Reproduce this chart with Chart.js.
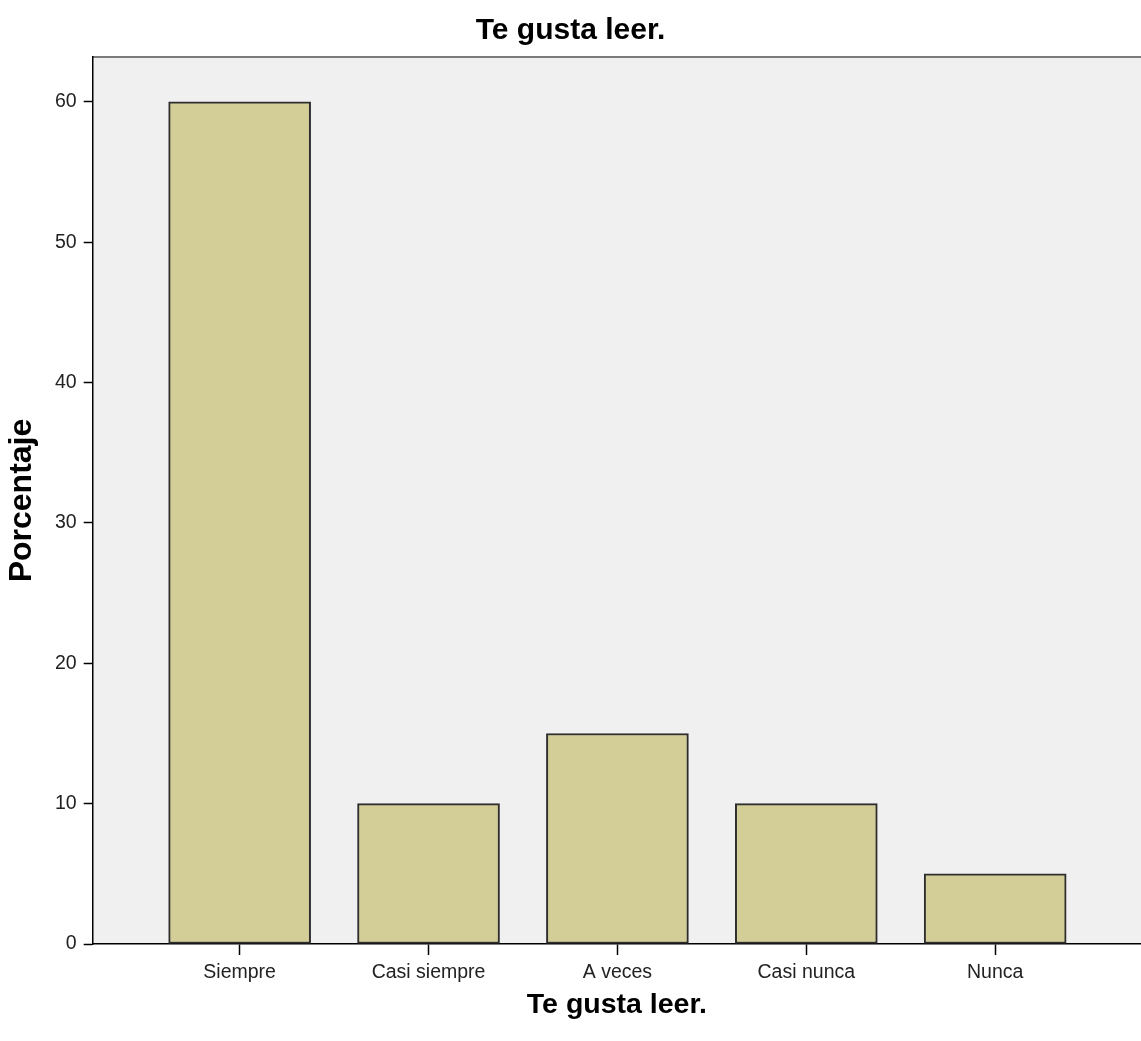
<!DOCTYPE html>
<html>
<head>
<meta charset="utf-8">
<script src="https://cdn.jsdelivr.net/npm/chart.js@4.4.1/dist/chart.umd.min.js"></script>
<style>
  html, body { margin: 0; padding: 0; background: #ffffff; }
  #wrap { width: 1141px; height: 1041px; }
</style>
</head>
<body>
<div id="wrap"><canvas id="c" width="1141" height="1041"></canvas></div>
<script>
const categories = ['Siempre', 'Casi siempre', 'A veces', 'Casi nunca', 'Nunca'];
const percentages = [60, 10, 15, 10, 5];
const yTicks = [0, 10, 20, 30, 40, 50, 60];
const chartTitle = 'Te gusta leer.';
const xTitle = 'Te gusta leer.';
const yTitle = 'Porcentaje';

const FONT = '"Liberation Sans", Arial, Helvetica, sans-serif';

const plotBg = {
  id: 'plotBg',
  beforeDraw(chart) {
    const { ctx, chartArea: a } = chart;
    ctx.save();
    ctx.fillStyle = '#f0f0f0';
    ctx.fillRect(a.left, a.top, a.right - a.left, a.bottom - a.top);
    ctx.strokeStyle = '#7a7a7a';
    ctx.lineWidth = 2;
    ctx.beginPath();
    ctx.moveTo(a.left, a.top);
    ctx.lineTo(a.right, a.top);
    ctx.stroke();
    ctx.restore();
  }
};

new Chart(document.getElementById('c'), {
  type: 'bar',
  data: {
    datasets: [{
      data: categories.map((c, i) => ({ x: i, y: percentages[i] })),
      backgroundColor: '#d3ce97',
      borderColor: '#2e2e2e',
      borderWidth: 2,
      borderSkipped: false,
      barThickness: 142
    }]
  },
  options: {
    responsive: false,
    animation: false,
    events: [],
    layout: { padding: { left: 0, right: 0, top: 0, bottom: 0 } },
    plugins: {
      legend: { display: false },
      tooltip: { enabled: false },
      title: {
        display: true,
        text: chartTitle,
        color: '#000000',
        font: { family: FONT, size: 30, weight: 'bold', lineHeight: 1.2 },
        padding: { top: 13, bottom: 8 }
      }
    },
    scales: {
      x: {
        type: 'linear',
        offset: false,
        min: -0.778,
        max: 4.772,
        afterBuildTicks(scale) {
          scale.ticks = categories.map((c, i) => ({ value: i }));
        },
        ticks: {
          callback: (v) => categories[v] ?? '',
          color: '#222222',
          font: { family: FONT, size: 19.5, lineHeight: 1.0 },
          padding: 8,
          maxRotation: 0,
          autoSkip: false
        },
        grid: {
          offset: false,
          drawOnChartArea: false,
          drawTicks: true,
          tickLength: 11,
          tickColor: '#000000',
          tickWidth: 1.5
        },
        border: { display: true, color: '#000000', width: 1.5 },
        title: {
          display: true,
          text: xTitle,
          color: '#000000',
          font: { family: FONT, size: 28.5, weight: 'bold', lineHeight: 1.0 },
          padding: { top: 0, bottom: 22 }
        }
      },
      y: {
        min: 0,
        max: 63.2,
        afterBuildTicks(scale) {
          scale.ticks = yTicks.map(v => ({ value: v }));
        },
        ticks: {
          color: '#222222',
          font: { family: FONT, size: 19.5 },
          padding: 7
        },
        grid: {
          drawOnChartArea: false,
          drawTicks: true,
          tickLength: 9,
          tickColor: '#000000',
          tickWidth: 1.5
        },
        border: { display: true, color: '#000000', width: 1.5 },
        title: {
          display: true,
          text: yTitle,
          color: '#000000',
          font: { family: FONT, size: 32, weight: 'bold', lineHeight: 1 },
          padding: { top: 6, bottom: 10 }
        }
      }
    }
  },
  plugins: [plotBg]
});
</script>
</body>
</html>
